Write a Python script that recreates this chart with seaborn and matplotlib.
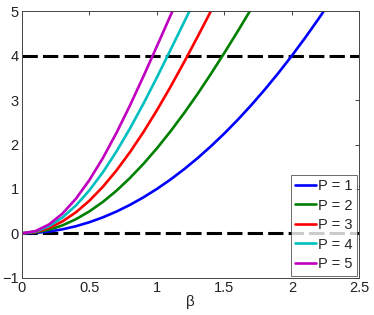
import matplotlib
matplotlib.use("Agg")
import matplotlib.pyplot as plt
import seaborn as sns
import pandas as pd

# beta grid (read positions along x)
beta = [0.0, 0.1, 0.2, 0.3, 0.4, 0.5, 0.6, 0.7, 0.8, 0.9, 1.0, 1.1, 1.2,
        1.3, 1.4, 1.5, 1.6, 1.7, 1.8, 1.9, 2.0, 2.1, 2.2, 2.3]

# values for each curve
y_p1 = [0.0, 0.01, 0.04, 0.09, 0.16, 0.25, 0.36, 0.49, 0.64, 0.81, 1.00, 1.21,
        1.44, 1.69, 1.96, 2.25, 2.56, 2.89, 3.24, 3.61, 4.00, 4.41, 4.84, 5.29]
y_p2 = [0.0, 0.020, 0.080, 0.179, 0.318, 0.495, 0.709, 0.959, 1.245, 1.564,
        1.914, 2.294, 2.702, 3.133, 3.590, 4.065, 4.556, 5.061, 5.578]
y_p3 = [0.0, 0.030, 0.120, 0.268, 0.474, 0.736, 1.050, 1.415, 1.827, 2.280,
        2.772, 3.296, 3.847, 4.419, 5.004, 5.596]
y_p4 = [0.0, 0.040, 0.159, 0.356, 0.628, 0.970, 1.377, 1.843, 2.360, 2.920,
        3.512, 4.126, 4.748, 5.366]
y_p5 = [0.0, 0.050, 0.199, 0.444, 0.780, 1.201, 1.698, 2.261, 2.878, 3.535,
        4.215, 4.900, 5.572]

labels = ["P = 1", "P = 2", "P = 3", "P = 4", "P = 5"]
series = [y_p1, y_p2, y_p3, y_p4, y_p5]
colors = ["#0000ff", "#008000", "#ff0000", "#00bfbf", "#bf00bf"]

ref_levels = [0, 4]
xticks = [0, 0.5, 1, 1.5, 2, 2.5]
xticklabels = ["0", "0.5", "1", "1.5", "2", "2.5"]
yticks = [-1, 0, 1, 2, 3, 4, 5]

rows = []
for lab, ys in zip(labels, series):
    for b, v in zip(beta, ys):
        rows.append({"beta": b, "y": v, "P": lab})
df = pd.DataFrame(rows)

sns.set_theme(style="white")
plt.rcParams["font.family"] = ["Liberation Sans", "DejaVu Sans"]

fig = plt.figure(figsize=(3.74, 3.15), dpi=100)
ax = fig.add_axes([0.0588, 0.1184, 0.9019, 0.8456])

for lvl in ref_levels:
    ax.axhline(lvl, color="black", lw=2.2, dashes=(5, 1.7), zorder=1)

sns.lineplot(data=df, x="beta", y="y", hue="P", hue_order=labels,
             palette=colors, linewidth=1.9, ax=ax, zorder=2,
             estimator=None, sort=False)

ax.set_xlim(0, 2.5)
ax.set_ylim(-1, 5)
ax.set_xticks(xticks)
ax.set_xticklabels(xticklabels)
ax.set_yticks(yticks)
ax.set_xlabel("β", fontsize=11, labelpad=0)
ax.set_ylabel("")
ax.tick_params(direction="in", top=True, right=True, length=3, width=0.6,
               labelsize=10.5, pad=2.5, colors="#222222")
for sp in ax.spines.values():
    sp.set_color("#444444")
    sp.set_linewidth(0.7)

leg = ax.legend(loc="lower right", fontsize=10.5, frameon=True, fancybox=False,
                handlelength=1.45, handletextpad=0.15, borderpad=0.3,
                labelspacing=0.38, borderaxespad=0.15)
leg.get_frame().set_edgecolor("#444444")
leg.get_frame().set_linewidth(0.7)
for h in leg.get_lines():
    h.set_linewidth(1.9)

fig.savefig("out.png", dpi=100, facecolor="white")
